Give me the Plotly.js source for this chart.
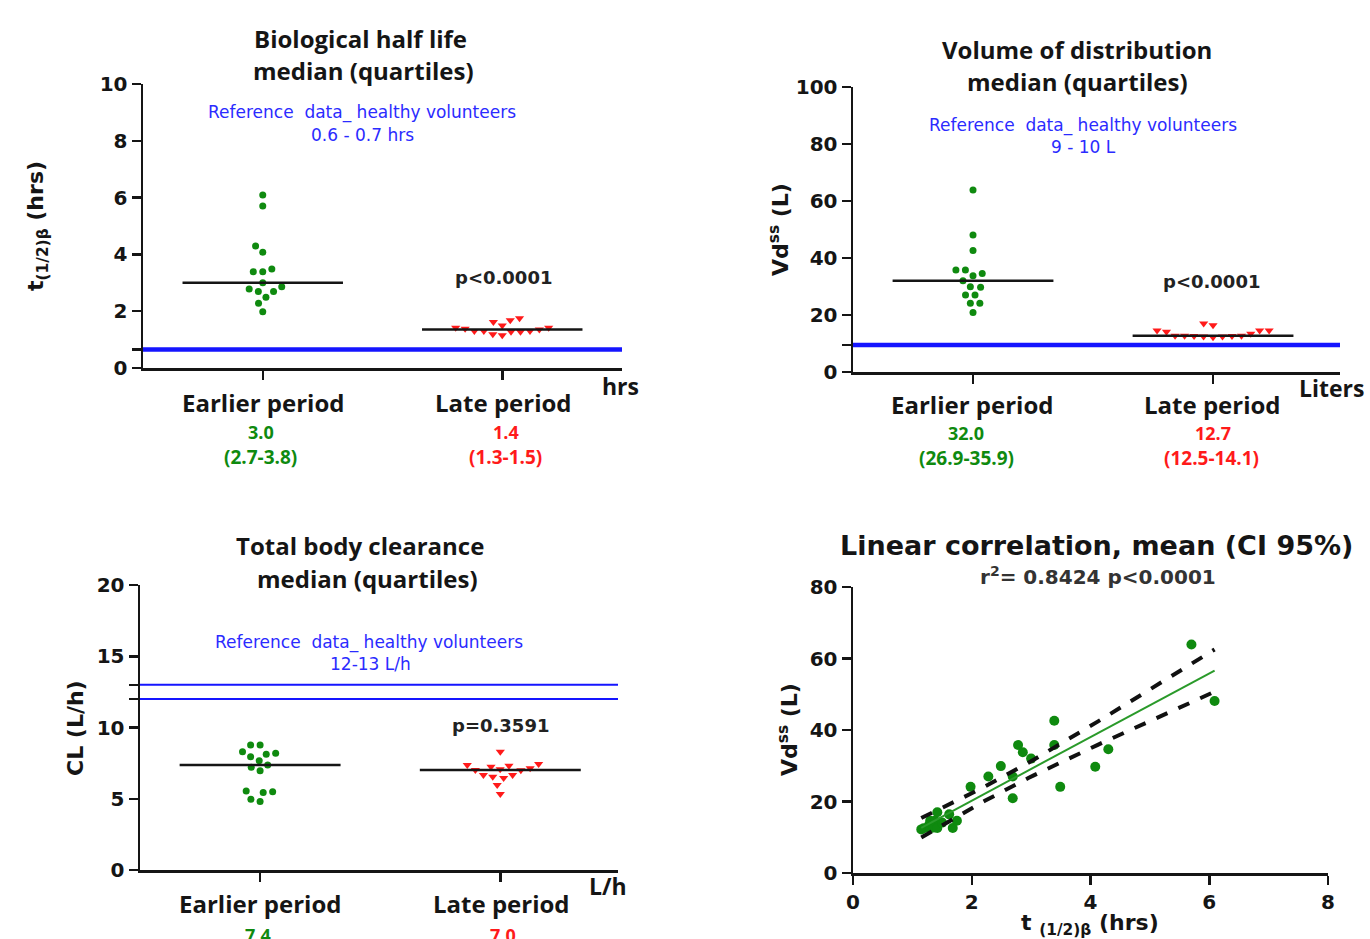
<!DOCTYPE html>
<html><head><meta charset="utf-8">
<script src="https://cdn.plot.ly/plotly-3.0.1.min.js"></script>
<style>html,body{margin:0;padding:0;background:#fff;}#chart{width:1370px;height:939px;}</style>
</head><body><div id="chart"></div>
<script>
// ---------------- DATA ----------------
const categories = ['Earlier period', 'Late period'];
// paired per-patient values (half-life hrs, Vd L)
const earlyHalfLife = [5.70, 6.09, 3.39, 2.78, 3.39, 2.86, 3.00, 4.30, 2.49, 4.08, 2.28, 2.69, 3.49, 1.98, 2.69];
const earlyVd       = [63.9, 48.1, 42.6, 35.8, 35.8, 33.8, 32.0, 34.6, 29.9, 29.7, 27.0, 27.0, 24.1, 24.1, 20.9];
const lateHalfLife  = [1.15, 1.19, 1.28, 1.28, 1.30, 1.30, 1.30, 1.36, 1.38, 1.42, 1.42, 1.50, 1.62, 1.68, 1.75];
const lateVd        = [12.2, 12.5, 12.7, 13.4, 12.5, 14.6, 12.7, 12.7, 14.6, 17.0, 12.6, 14.1, 16.4, 12.6, 14.6];
// clearance L/h
const earlyCL = [8.77, 8.77, 8.19, 8.30, 7.95, 8.12, 7.67, 7.37, 7.21, 6.97, 5.50, 5.43, 5.54, 4.80, 4.96];
const lateCL  = [8.30, 7.44, 7.37, 7.32, 7.25, 7.14, 7.07, 7.02, 7.00, 6.67, 6.67, 6.55, 6.45, 5.96, 5.33];
// reference ranges (healthy volunteers)
const refHalfLife = [0.65];
const refVd = [9.5];
const refCL = [12, 13];
// texts
const halfLifeMedianText = ['3.0', '1.4'];
const halfLifeIQRText = ['(2.7-3.8)', '(1.3-1.5)'];
const vdMedianText = ['32.0', '12.7'];
const vdIQRText = ['(26.9-35.9)', '(12.5-14.1)'];
const clMedianText = ['7.4', '7.0'];
const pValues = ['p&lt;0.0001', 'p&lt;0.0001', 'p=0.3591'];
const corrStats = 'r<sup>2</sup>= 0.8424 p&lt;0.0001';

// ---------------- HELPERS ----------------
const W = 1370, H = 939;
const fx = px => px / W;
const fy = py => 1 - py / H;
const GREEN = '#0f8a0f', RED = '#ff1a1a', BLUE = '#1515ff', BLUETXT = '#2b2bff', INK = '#151515';
const TITLEFONT = '"Open Sans", Lato, sans-serif';
const SANS = '"DejaVu Sans", "Liberation Sans", sans-serif';

function median(a) { const s = [...a].sort((p, q) => p - q); const n = s.length; return n % 2 ? s[(n - 1) / 2] : (s[n / 2 - 1] + s[n / 2]) / 2; }

function swarm(vals, pxY, diam) {
  const idx = vals.map((v, i) => i).sort((a, b) => vals[a] - vals[b]);
  const placed = []; const off = new Array(vals.length).fill(0);
  for (const i of idx) {
    const y = vals[i] * pxY; const ivs = [];
    for (const p of placed) { const dy = Math.abs(y - p.y); if (dy < diam) { const dx = Math.sqrt(diam * diam - dy * dy); ivs.push([p.x - dx, p.x + dx]); } }
    const cands = [0]; ivs.forEach(iv => cands.push(iv[0], iv[1]));
    cands.sort((a, b) => Math.abs(a) - Math.abs(b) || a - b);
    let x = 0;
    for (const c of cands) { if (ivs.every(iv => c <= iv[0] + 1e-9 || c >= iv[1] - 1e-9)) { x = c; break; } }
    placed.push({ x, y }); off[i] = x;
  }
  return off;
}
function swarmX(vals, cat, pxY, pxX, diam) { return swarm(vals, pxY, diam).map(o => cat + o / pxX); }

// panel geometry (pixels)
const P1 = { l: 143, r: 622, t: 84, b: 368, ymax: 10, xr: [0.5, 2.5] };
const P2 = { l: 853, r: 1340, t: 87, b: 372, ymax: 100, xr: [0.5, 2.529] };
const P3 = { l: 140, r: 618, t: 585, b: 870, ymax: 20, xr: [0.5, 2.49] };
const P4 = { l: 853, r: 1328, t: 587, b: 873 };
const pxPerY = P => (P.b - P.t) / P.ymax;
const pxPerX = P => (P.r - P.l) / (P.xr[1] - P.xr[0]);

const DIAM = 9.5;
const traces = [];
function dotTraces(P, xa, ya, early, late) {
  traces.push({ type: 'scatter', mode: 'markers', xaxis: xa, yaxis: ya, x: swarmX(early, 1, pxPerY(P), pxPerX(P), DIAM), y: early,
    marker: { symbol: 'circle', size: 7, color: GREEN }, hoverinfo: 'y', showlegend: false });
  traces.push({ type: 'scatter', mode: 'markers', xaxis: xa, yaxis: ya, x: swarmX(late, 2, pxPerY(P), pxPerX(P), DIAM), y: late,
    marker: { symbol: 'triangle-down', size: 8, color: RED }, hoverinfo: 'y', showlegend: false });
}
dotTraces(P1, 'x', 'y', earlyHalfLife, lateHalfLife);
dotTraces(P2, 'x2', 'y2', earlyVd, lateVd);
dotTraces(P3, 'x3', 'y3', earlyCL, lateCL);

// linear regression panel
const allX = earlyHalfLife.concat(lateHalfLife), allY = earlyVd.concat(lateVd);
const n = allX.length;
const mx = allX.reduce((a, b) => a + b, 0) / n, my = allY.reduce((a, b) => a + b, 0) / n;
let sxx = 0, sxy = 0; for (let i = 0; i < n; i++) { sxx += (allX[i] - mx) ** 2; sxy += (allX[i] - mx) * (allY[i] - my); }
const slope = sxy / sxx, icpt = my - slope * mx;
let sse = 0; for (let i = 0; i < n; i++) sse += (allY[i] - (icpt + slope * allX[i])) ** 2;
const se = Math.sqrt(sse / (n - 2)), tcrit = 2.048;
const xmin = Math.min(...allX), xmax = Math.max(...allX);
const gx = [], gy = [], glo = [], ghi = [];
for (let k = 0; k <= 60; k++) {
  const xv = xmin + (xmax - xmin) * k / 60; const yv = icpt + slope * xv;
  const h = tcrit * se * Math.sqrt(1 / n + (xv - mx) ** 2 / sxx);
  gx.push(xv); gy.push(yv); glo.push(yv - h); ghi.push(yv + h);
}
traces.push({ type: 'scatter', mode: 'markers', xaxis: 'x4', yaxis: 'y4', x: allX, y: allY, marker: { size: 10, color: GREEN }, showlegend: false });
traces.push({ type: 'scatter', mode: 'lines', xaxis: 'x4', yaxis: 'y4', x: gx, y: ghi, line: { color: '#111', width: 4, dash: 'dash' }, showlegend: false, hoverinfo: 'skip' });
traces.push({ type: 'scatter', mode: 'lines', xaxis: 'x4', yaxis: 'y4', x: gx, y: glo, line: { color: '#111', width: 4, dash: 'dash' }, showlegend: false, hoverinfo: 'skip' });
traces.push({ type: 'scatter', mode: 'lines', xaxis: 'x4', yaxis: 'y4', x: gx, y: gy, line: { color: '#2a9a2a', width: 2 }, showlegend: false, hoverinfo: 'skip' });

// ---------------- AXES ----------------
const tickfont = { family: SANS, size: 20, color: INK, weight: 'bold' };
function yAx(P, tv, tt, anchor) {
  return { domain: [fy(P.b), fy(P.t)], range: [0, P.ymax], anchor, tickvals: tv, ticktext: tt, ticks: 'outside', ticklen: 9, tickwidth: 2.5,
    tickcolor: INK, showline: true, linewidth: 2.5, linecolor: INK, showgrid: false, zeroline: false, tickfont, fixedrange: true };
}
function xAx(P, anchor) {
  return { domain: [fx(P.l), fx(P.r)], range: P.xr, anchor, tickvals: [1, 2], ticktext: ['', ''], ticks: 'outside', ticklen: 9, tickwidth: 2.5,
    tickcolor: INK, showline: true, linewidth: 2.5, linecolor: INK, showgrid: false, zeroline: false, fixedrange: true };
}

const layout = {
  width: W, height: H, margin: { l: 0, r: 0, t: 0, b: 0 }, paper_bgcolor: '#fff', plot_bgcolor: 'rgba(0,0,0,0)', showlegend: false,
  xaxis: xAx(P1, 'y'),
  yaxis: yAx(P1, [0, refHalfLife[0], 2, 4, 6, 8, 10], ['0', '', '2', '4', '6', '8', '10'], 'x'),
  xaxis2: xAx(P2, 'y2'),
  yaxis2: yAx(P2, [0, refVd[0], 20, 40, 60, 80, 100], ['0', '', '20', '40', '60', '80', '100'], 'x2'),
  xaxis3: xAx(P3, 'y3'),
  yaxis3: yAx(P3, [0, 5, 10, refCL[0], refCL[1], 15, 20], ['0', '5', '10', '', '', '15', '20'], 'x3'),
  xaxis4: { domain: [fx(P4.l), fx(P4.r)], range: [0, 8], anchor: 'y4', tickvals: [0, 2, 4, 6, 8], ticks: 'outside', ticklen: 9, tickwidth: 2.5,
    tickcolor: INK, showline: true, linewidth: 2.5, linecolor: INK, showgrid: false, zeroline: false, tickfont, fixedrange: true },
  yaxis4: { domain: [fy(P4.b), fy(P4.t)], range: [0, 80], anchor: 'x4', tickvals: [0, 20, 40, 60, 80], ticks: 'outside', ticklen: 9, tickwidth: 2.5,
    tickcolor: INK, showline: true, linewidth: 2.5, linecolor: INK, showgrid: false, zeroline: false, tickfont, fixedrange: true },
  shapes: [], annotations: []
};

// reference lines
refHalfLife.forEach(v => layout.shapes.push({ type: 'line', xref: 'x domain', yref: 'y', x0: 0, x1: 1, y0: v, y1: v, line: { color: BLUE, width: 4.5 } }));
refVd.forEach(v => layout.shapes.push({ type: 'line', xref: 'x2 domain', yref: 'y2', x0: 0, x1: 1, y0: v, y1: v, line: { color: BLUE, width: 4.5 } }));
refCL.forEach(v => layout.shapes.push({ type: 'line', xref: 'x3 domain', yref: 'y3', x0: 0, x1: 1, y0: v, y1: v, line: { color: BLUE, width: 2.2 } }));

// median lines
function medLines(xa, ya, early, late) {
  [early, late].forEach((arr, i) => {
    const m = median(arr);
    layout.shapes.push({ type: 'line', xref: xa, yref: ya, x0: i + 1 - 0.335, x1: i + 1 + 0.335, y0: m, y1: m, line: { color: INK, width: 2.5 } });
  });
}
medLines('x', 'y', earlyHalfLife, lateHalfLife);
medLines('x2', 'y2', earlyVd, lateVd);
medLines('x3', 'y3', earlyCL, lateCL);

function ann(text, px, py, size, color, family, opts) {
  layout.annotations.push(Object.assign({ text, x: fx(px), y: fy(py), xref: 'paper', yref: 'paper', showarrow: false,
    xanchor: 'center', yanchor: 'middle', font: { size, color, family } }, opts || {}));
}
const NB = '\u00a0';
const REFTXT = 'Reference' + NB + NB + 'data_ healthy' + NB + 'volunteers';
// Panel 1
ann('<b>Biological half life</b>', 360, 38, 24, INK, TITLEFONT);
ann('<b>median (quartiles)</b>', 363, 70, 24, INK, TITLEFONT);
ann(REFTXT, 362, 113, 17, BLUETXT, SANS);
ann('0.6 - 0.7 hrs', 362, 135, 17, BLUETXT, SANS);
ann('<b>' + pValues[0] + '</b>', 503, 277, 18, '#222', SANS);
ann('<b>' + categories[0] + '</b>', 263, 402, 24, INK, TITLEFONT);
ann('<b>' + categories[1] + '</b>', 504, 402, 24, INK, TITLEFONT);
ann('<b>' + halfLifeMedianText[0] + '</b>', 261, 432, 18, GREEN, TITLEFONT);
ann('<b>' + halfLifeIQRText[0] + '</b>', 260, 457, 19, GREEN, TITLEFONT);
ann('<b>' + halfLifeMedianText[1] + '</b>', 506, 432, 18, RED, TITLEFONT);
ann('<b>' + halfLifeIQRText[1] + '</b>', 505, 457, 19, RED, TITLEFONT);
ann('<b>hrs</b>', 620, 386, 23, INK, TITLEFONT);
ann('<b>t<sub>(1/2)β</sub> (hrs)</b>', 38, 226, 22, INK, SANS, { textangle: -90 });
// Panel 2
ann('<b>Volume of distribution</b>', 1077, 50, 24, INK, TITLEFONT);
ann('<b>median (quartiles)</b>', 1077, 82, 24, INK, TITLEFONT);
ann(REFTXT, 1083, 125, 17, BLUETXT, SANS);
ann('9 - 10 L', 1083, 147, 17, BLUETXT, SANS);
ann('<b>' + pValues[1] + '</b>', 1211, 281, 18, '#222', SANS);
ann('<b>' + categories[0] + '</b>', 972, 405, 24, INK, TITLEFONT);
ann('<b>' + categories[1] + '</b>', 1212, 405, 24, INK, TITLEFONT);
ann('<b>' + vdMedianText[0] + '</b>', 966, 433, 18, GREEN, TITLEFONT);
ann('<b>' + vdIQRText[0] + '</b>', 966, 458, 19, GREEN, TITLEFONT);
ann('<b>' + vdMedianText[1] + '</b>', 1213, 433, 18, RED, TITLEFONT);
ann('<b>' + vdIQRText[1] + '</b>', 1211, 458, 19, RED, TITLEFONT);
ann('<b>Liters</b>', 1331, 388, 23, INK, TITLEFONT);
ann('<b>Vd<sup>ss</sup> (L)</b>', 779, 230, 22, INK, SANS, { textangle: -90 });
// Panel 3
ann('<b>Total body clearance</b>', 360, 545, 24, INK, TITLEFONT);
ann('<b>median (quartiles)</b>', 367, 578, 24, INK, TITLEFONT);
ann(REFTXT, 369, 642, 17, BLUETXT, SANS);
ann('12-13 L/h', 370, 664, 17, BLUETXT, SANS);
ann('<b>' + pValues[2] + '</b>', 500, 725, 18, '#222', SANS);
ann('<b>' + categories[0] + '</b>', 260, 903, 24, INK, TITLEFONT);
ann('<b>' + categories[1] + '</b>', 501, 903, 24, INK, TITLEFONT);
ann('<b>' + clMedianText[0] + '</b>', 258, 935, 18, GREEN, TITLEFONT);
ann('<b>' + clMedianText[1] + '</b>', 503, 935, 18, RED, TITLEFONT);
ann('<b>L/h</b>', 608, 886, 23, INK, TITLEFONT);
ann('<b>CL (L/h)</b>', 75, 728, 22, INK, SANS, { textangle: -90 });
// Panel 4
ann('<b>Linear correlation, mean (CI 95%)</b>', 1096, 545, 27, INK, SANS);
ann('<b>' + corrStats + '</b>', 1098, 576, 20, '#333', SANS);
ann('<b>Vd<sup>ss</sup> (L)</b>', 788, 730, 22, INK, SANS, { textangle: -90 });
ann('<b>t <sub>(1/2)β</sub> (hrs)</b>', 1090, 924, 22, INK, SANS);

Plotly.newPlot('chart', traces, layout, { displayModeBar: false, staticPlot: true });
</script>
</body></html>
